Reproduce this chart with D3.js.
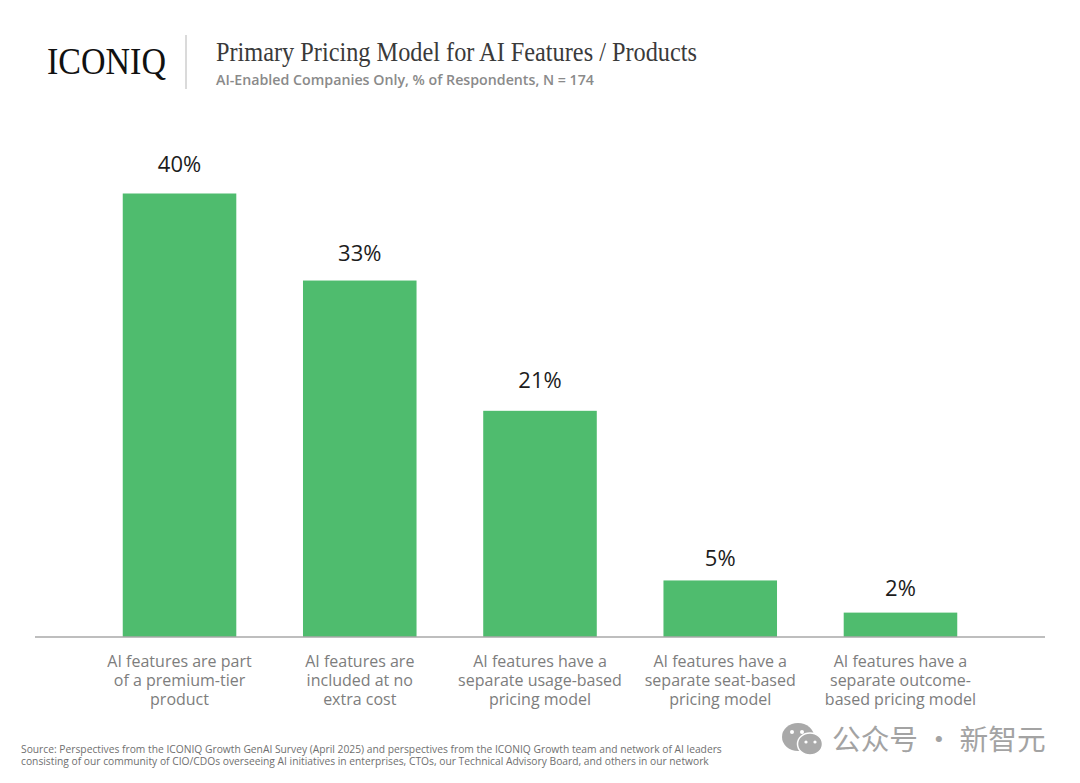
<!DOCTYPE html>
<html>
<head>
<meta charset="utf-8">
<script src="https://cdn.jsdelivr.net/npm/d3@7"></script>
<style>
html, body { margin: 0; padding: 0; background: #fff; }
svg { display: block; }
text { font-family: "Open Sans", sans-serif; }
.serif { font-family: "Liberation Serif", serif; }
</style>
</head>
<body>
<div id="chart"></div>
<script>
var categories = ["premium", "free", "usage", "seat", "outcome"];
var categoryLines = [
    ["AI features are part", "of a premium-tier", "product"],
    ["AI features are", "included at no", "extra cost"],
    ["AI features have a", "separate usage-based", "pricing model"],
    ["AI features have a", "separate seat-based", "pricing model"],
    ["AI features have a", "separate outcome-", "based pricing model"]
];
// bar heights as drawn, the printed labels are rounded differently
var barValues = [40, 32.15, 20.4, 5.1, 2.2];
var valueLabels = ["40%", "33%", "21%", "5%", "2%"];
var sourceLines = [
    "Source: Perspectives from the ICONIQ Growth GenAI Survey (April 2025) and perspectives from the ICONIQ Growth team and network of AI leaders",
    "consisting of our community of CIO/CDOs overseeing AI initiatives in enterprises, CTOs, our Technical Advisory Board, and others in our network"
];

var width = 1080, height = 783;
var baseY = 637;
// the gap over each bar is not even in the original
var labelGaps = [22, 20, 23, 14, 17];

var svg = d3.select("#chart").append("svg")
    .attr("width", width)
    .attr("height", height);

var x = d3.scaleBand()
    .domain(categories)
    .range([89.4, 990.6])
    .paddingInner(0.37)
    .paddingOuter(0.185);

var y = d3.scaleLinear()
    .domain([0, 40])
    .range([baseY, 193.5]);

/* header */
svg.append("text").attr("class", "serif")
    .attr("x", 47).attr("y", 74)
    .attr("font-size", 38).attr("fill", "#111111")
    .attr("textLength", 119).attr("lengthAdjust", "spacingAndGlyphs")
    .text("ICONIQ");
svg.append("line")
    .attr("x1", 186).attr("x2", 186).attr("y1", 35).attr("y2", 89)
    .attr("stroke", "#b5b5b5").attr("stroke-width", 1);
svg.append("text").attr("class", "serif")
    .attr("x", 216).attr("y", 61)
    .attr("font-size", 26.5).attr("fill", "#3a3a3a")
    .attr("textLength", 481).attr("lengthAdjust", "spacingAndGlyphs")
    .text("Primary Pricing Model for AI Features / Products");
svg.append("text")
    .attr("x", 216).attr("y", 85)
    .attr("font-size", 14).attr("font-weight", 600).attr("fill", "#8a8a8a")
    .attr("textLength", 378).attr("lengthAdjust", "spacingAndGlyphs")
    .text("AI-Enabled Companies Only, % of Respondents, N = 174");

/* bars */
svg.selectAll("rect.bar").data(categories).enter().append("rect")
    .attr("class", "bar")
    .attr("x", function(d) { return x(d); })
    .attr("y", function(d, i) { return y(barValues[i]); })
    .attr("width", x.bandwidth())
    .attr("height", function(d, i) { return baseY - y(barValues[i]); })
    .attr("fill", "#4fbc6e");

svg.selectAll("text.val").data(categories).enter().append("text")
    .attr("class", "val")
    .attr("x", function(d) { return x(d) + x.bandwidth() / 2; })
    .attr("y", function(d, i) { return y(barValues[i]) - labelGaps[i]; })
    .attr("text-anchor", "middle")
    .attr("font-size", 22).attr("fill", "#1c1c1c")
    .text(function(d, i) { return valueLabels[i]; });

/* axis, ticks hidden */
var axis = svg.append("g")
    .attr("transform", "translate(0," + baseY + ")")
    .call(d3.axisBottom(x).tickSize(0).tickFormat(""));
axis.select(".domain").remove();
axis.append("line")
    .attr("x1", 35).attr("x2", 1045)
    .attr("stroke", "#a8a8a8").attr("stroke-width", 1.3);

svg.selectAll("text.cat").data(categories).enter().append("text")
    .attr("class", "cat")
    .attr("text-anchor", "middle")
    .attr("font-size", 16).attr("fill", "#7d7d7d")
    .each(function(d, i) {
        var t = d3.select(this);
        categoryLines[i].forEach(function(line, j) {
            t.append("tspan")
                .attr("x", x(d) + x.bandwidth() / 2)
                .attr("y", 667 + j * 19)
                .text(line);
        });
    });

/* source */
svg.selectAll("text.src").data(sourceLines).enter().append("text")
    .attr("class", "src")
    .attr("x", 21)
    .attr("y", function(d, i) { return 752.5 + i * 12.5; })
    .attr("font-size", 10.28).attr("fill", "#6f6f6f")
    .text(function(d) { return d; });

/* watermark */
var mark = svg.append("g").attr("fill", "#a9a9a9");
mark.append("ellipse").attr("cx", 798).attr("cy", 737).attr("rx", 16).attr("ry", 14);
mark.append("ellipse").attr("cx", 810).attr("cy", 744).attr("rx", 12.5).attr("ry", 11)
    .attr("stroke", "#fff").attr("stroke-width", 1.5);
mark.append("circle").attr("cx", 792).attr("cy", 732).attr("r", 2).attr("fill", "#fff");
mark.append("circle").attr("cx", 802).attr("cy", 732).attr("r", 2).attr("fill", "#fff");
mark.append("circle").attr("cx", 806).attr("cy", 742).attr("r", 1.6).attr("fill", "#fff");
mark.append("circle").attr("cx", 815).attr("cy", 742).attr("r", 1.6).attr("fill", "#fff");
svg.append("text")
    .attr("x", 832).attr("y", 750)
    .attr("font-size", 28.7).attr("fill", "#a3a3a3")
    .style("font-family", '"Noto Sans CJK SC", sans-serif')
    .text("公众号 · 新智元");
</script>
</body>
</html>
